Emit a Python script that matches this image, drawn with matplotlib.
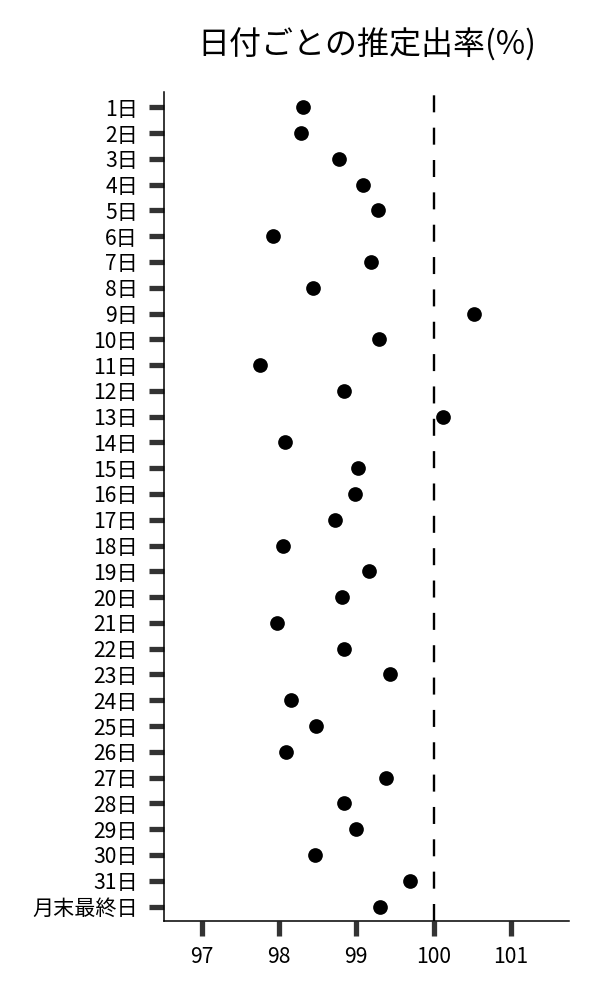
import numpy as np
import matplotlib
matplotlib.use("Agg")
import matplotlib.pyplot as plt

plt.rcParams['font.family'] = ['Noto Sans CJK JP', 'DejaVu Sans']

days = [f"{i}日" for i in range(1, 32)] + ["月末最終日"]
rates = [98.31, 98.29, 98.78, 99.08, 99.28, 97.92, 99.19, 98.44,
         100.52, 99.29, 97.75, 98.84, 100.12, 98.08, 99.02, 98.98,
         98.72, 98.05, 99.17, 98.82, 97.97, 98.84, 99.43, 98.16,
         98.48, 98.09, 99.38, 98.84, 98.99, 98.47, 99.69, 99.31]
xticks = [97, 98, 99, 100, 101]
ref_line = 100

fig = plt.figure(figsize=(6, 10), dpi=100)
ax = fig.add_axes([0.2738, 0.0793, 0.6745, 0.8284])

ypos = np.arange(len(days))
ax.scatter(rates, ypos, s=112, color='black', zorder=3, linewidths=0)
ax.axvline(ref_line, color='black', lw=1.7, dashes=(7.2, 6.5), zorder=2)

ax.set_yticks(ypos)
ax.set_yticklabels(days)
ax.set_ylim(len(days) - 1 + 0.55, -0.58)
ax.set_xticks(xticks)
ax.set_xlim(96.516, 101.75)

for side in ['top', 'right']:
    ax.spines[side].set_visible(False)
for side in ['left', 'bottom']:
    ax.spines[side].set_linewidth(1.1)

ax.tick_params(axis='both', direction='out', length=11, width=3.8,
               color='#333333', labelsize=15.2)
ax.tick_params(axis='y', pad=8)
ax.tick_params(axis='x', pad=7)

ax.set_title("日付ごとの推定出率(%)", fontsize=23, pad=27)

fig.savefig("out.png", dpi=100)
